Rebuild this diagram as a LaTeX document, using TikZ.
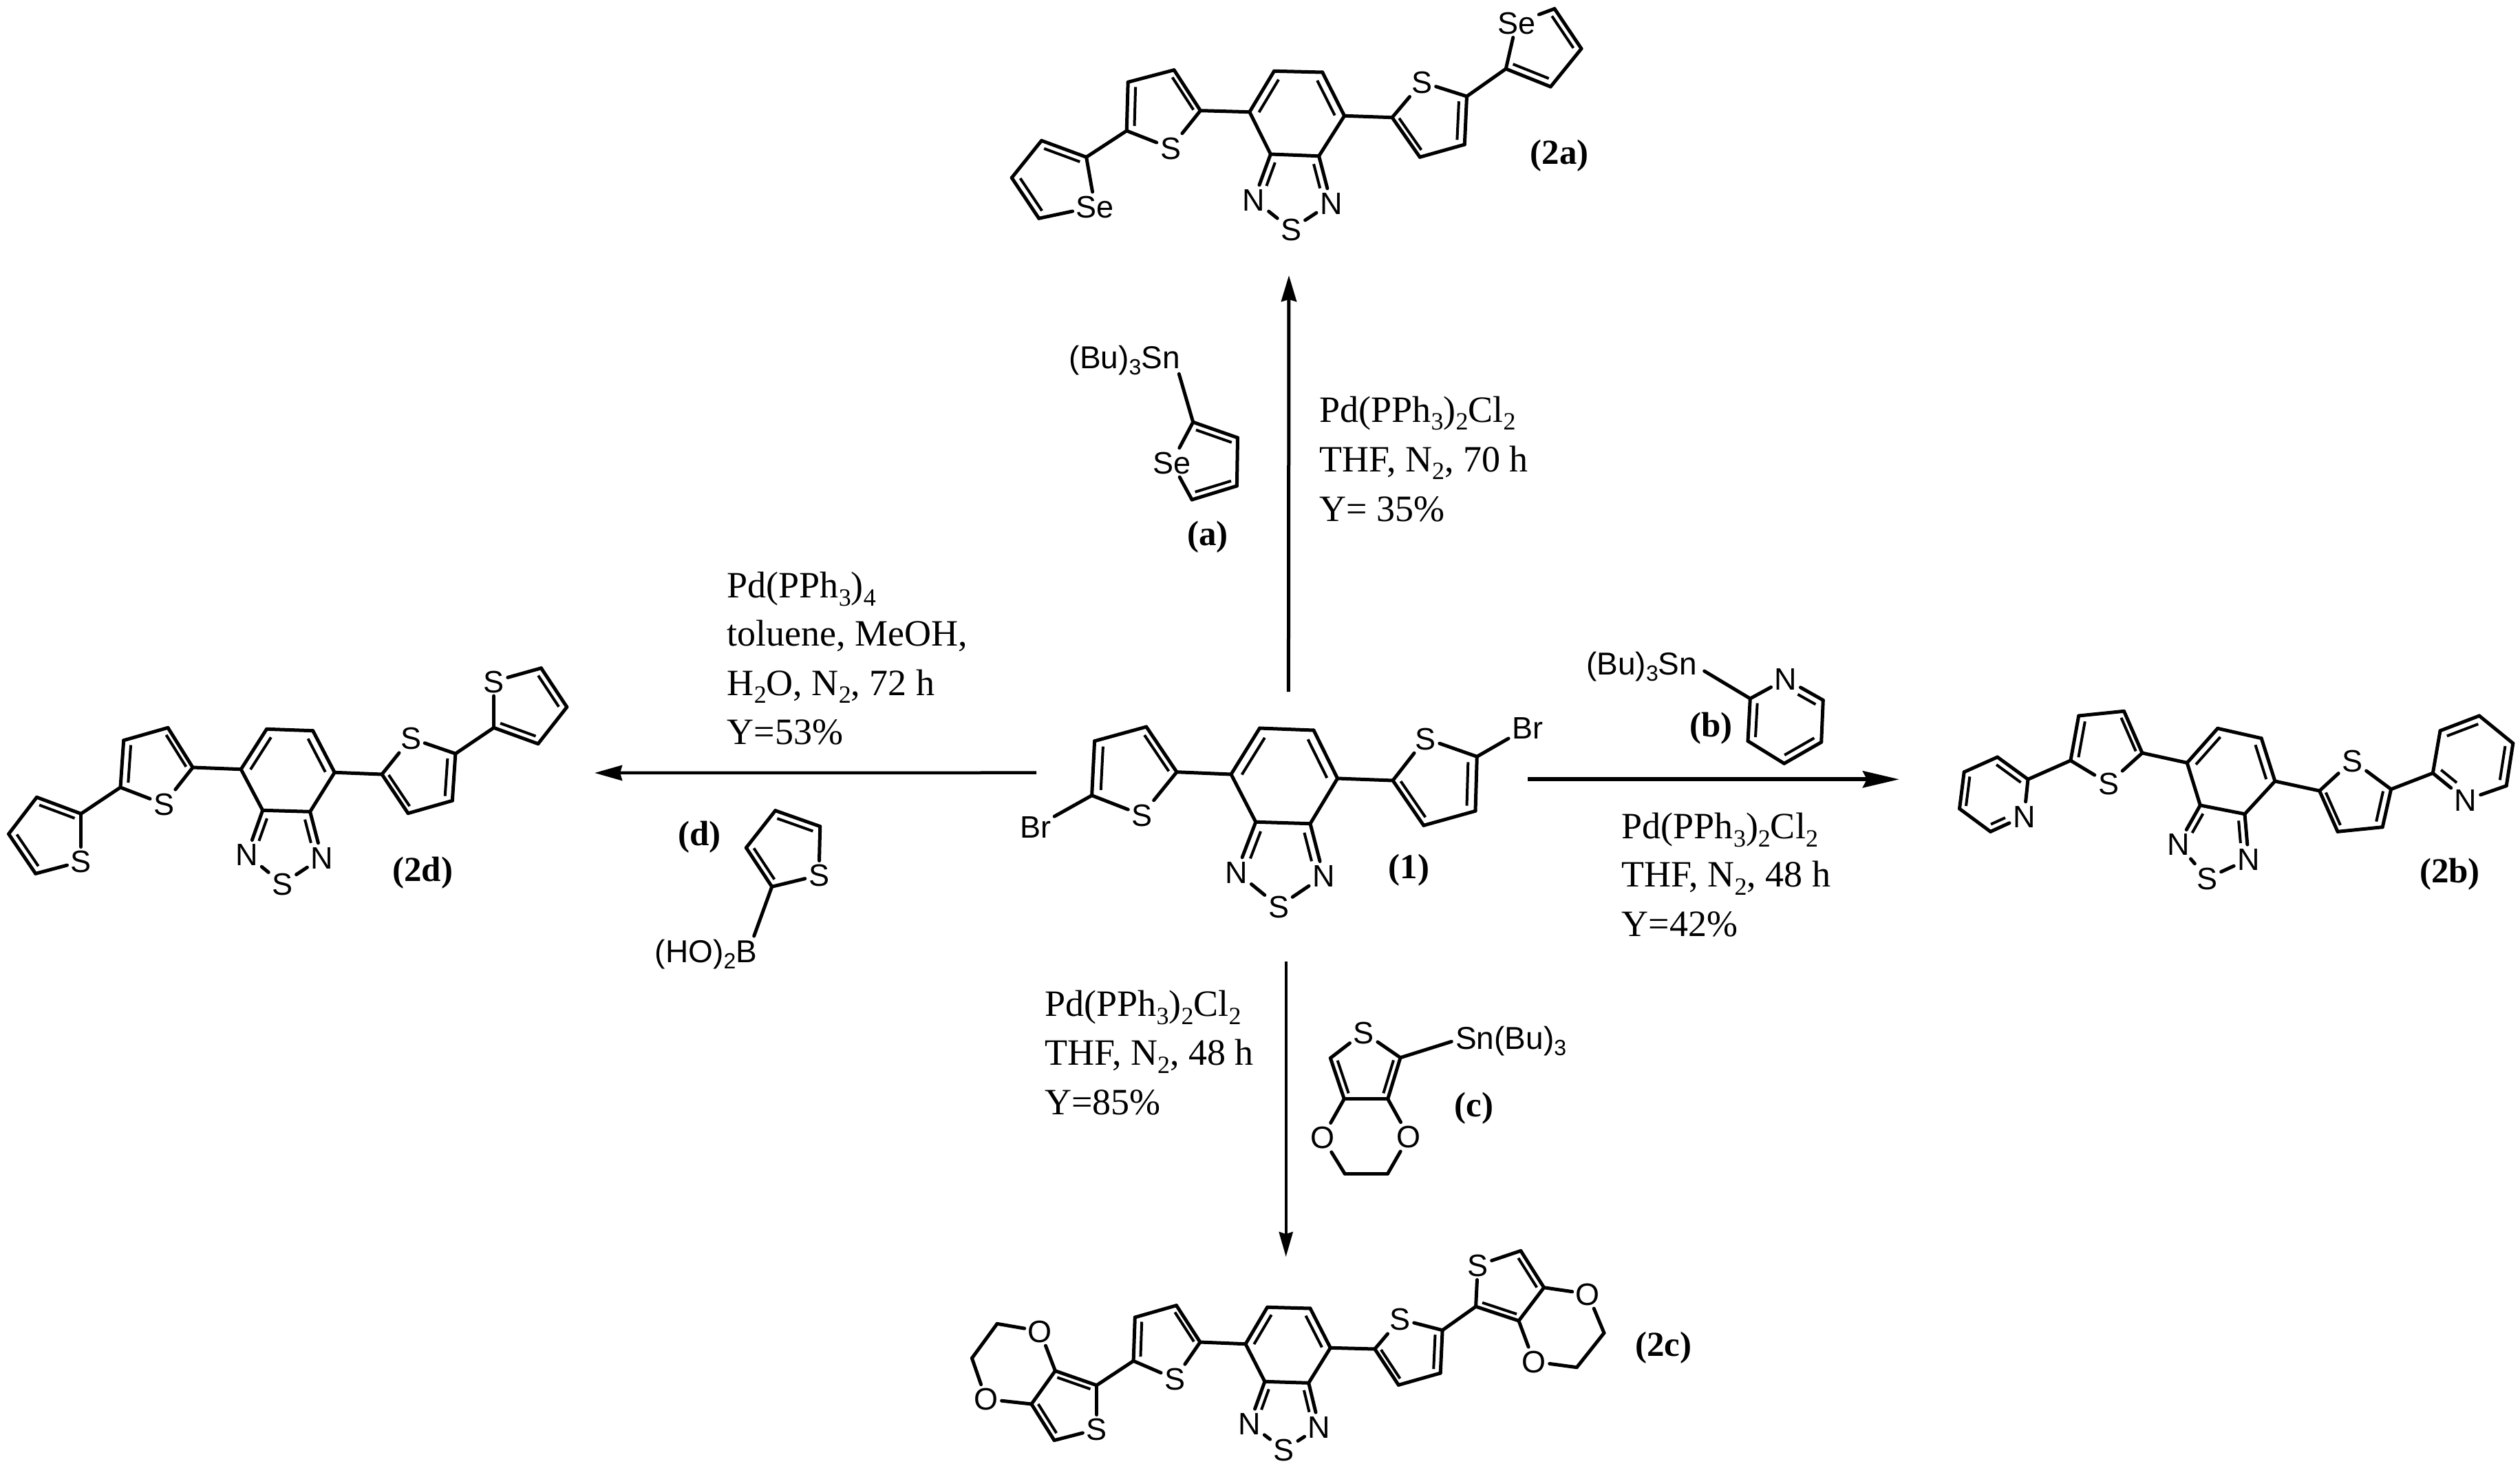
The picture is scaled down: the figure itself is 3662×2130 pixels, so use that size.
\documentclass[tikz,border=0pt]{standalone}
\usepackage{fontspec}
\setmainfont{Liberation Serif}
\setsansfont{Liberation Sans}
\usetikzlibrary{calc,arrows.meta}
\newcommand{\ssb}[1]{\raisebox{-0.22em}{\fontsize{36}{36}\selectfont #1}}
\newcommand{\asb}[1]{\raisebox{-0.2em}{\fontsize{32}{32}\selectfont #1}}
\tikzset{
  bond/.style={line width=5pt,line cap=round,line join=round,black},
  inb/.style={line width=4pt,line cap=butt,black},
  atomlab/.style={font=\sffamily\fontsize{45}{45}\selectfont,inner sep=5pt,text height=32pt,text depth=0pt},
  grp/.style={font=\sffamily\fontsize{46}{46}\selectfont,inner sep=0pt},
  cpd/.style={font=\rmfamily\bfseries\fontsize{51}{51}\selectfont,inner sep=0pt},
  cond/.style={font=\rmfamily\fontsize{54}{54}\selectfont,inner sep=0pt,anchor=base west},
}
% plain bond
\newcommand{\bnd}[2]{\draw[bond] (#1) -- (#2);}
% ring double bond: #1,#2 atoms, #3 ring centre
\newcommand{\dbl}[3]{\draw[bond] (#1) -- (#2);\draw[inb] ($(#1)!0.2!(#3)$) -- ($(#2)!0.2!(#3)$);}
% double bond whose second end is a heteroatom label
\newcommand{\dbh}[3]{\draw[bond] (#1) -- (#2);\draw[inb,shorten >=20pt] ($(#1)!0.2!(#3)$) -- ($(#2)!0.2!(#3)$);}
% shared core of all molecules, prefix #1
\newcommand{\core}[1]{%
  \coordinate (#1hc) at ($(#1a)!0.5!(#1d)$);
  \coordinate (#1tc) at ($(#1e)!0.5!(#1d)!0.55!(#1TS)$);
  \coordinate (#1lc) at ($(#1L2)!0.5!(#1L4)!0.2!(#1LS)$);
  \coordinate (#1rc) at ($(#1R2)!0.5!(#1R4)!0.2!(#1RS)$);
  \dbl{#1f}{#1a}{#1hc}\bnd{#1a}{#1b}\dbl{#1b}{#1c}{#1hc}\bnd{#1c}{#1d}\bnd{#1d}{#1e}\bnd{#1e}{#1f}
  \dbh{#1e}{#1N1}{#1tc}\dbh{#1d}{#1N2}{#1tc}\bnd{#1N1}{#1TS}\bnd{#1N2}{#1TS}
  \bnd{#1f}{#1L2}\dbl{#1L2}{#1L3}{#1lc}\bnd{#1L3}{#1L4}\dbl{#1L4}{#1L5}{#1lc}\bnd{#1L5}{#1LS}\bnd{#1LS}{#1L2}
  \bnd{#1c}{#1R2}\dbl{#1R2}{#1R3}{#1rc}\bnd{#1R3}{#1R4}\dbl{#1R4}{#1R5}{#1rc}\bnd{#1R5}{#1RS}\bnd{#1RS}{#1R2}
}
% coordinates of the core: prefix, then a b c d e f N1 N2 TS
\newcommand{\hexat}[7]{%
  \coordinate (#1a) at (#2);\coordinate (#1b) at (#3);\coordinate (#1c) at (#4);
  \coordinate (#1d) at (#5);\coordinate (#1e) at (#6);\coordinate (#1f) at (#7);}
\newcommand{\hetat}[4]{%
  \node[atomlab] (#1N1) at (#2) {N};\node[atomlab] (#1N2) at (#3) {N};\node[atomlab] (#1TS) at (#4) {S};}
\newcommand{\thL}[6]{%
  \coordinate (#1L2) at (#2);\coordinate (#1L3) at (#3);\coordinate (#1L4) at (#4);\coordinate (#1L5) at (#5);\node[atomlab] (#1LS) at (#6) {S};}
\newcommand{\thR}[6]{%
  \coordinate (#1R2) at (#2);\coordinate (#1R3) at (#3);\coordinate (#1R4) at (#4);\coordinate (#1R5) at (#5);\node[atomlab] (#1RS) at (#6) {S};}
\begin{document}
\begin{tikzpicture}[x=1pt,y=-1pt]
\useasboundingbox (0,0) rectangle (3662,2130);
% ---------- compound 1
\hexat{m}{1830.5,1058}{1909,1061}{1943.6,1131}{1904,1196.7}{1824.8,1194.3}{1789,1125}
\hetat{m}{1797,1267}{1923.5,1272.7}{1858,1317}
\thL{m}{1710,1121.7}{1665.8,1056}{1590.6,1076.7}{1586.6,1155.7}{1659.5,1184}
\thR{m}{2024,1134}{2068.8,1199.3}{2144,1178.3}{2146.3,1099.3}{2071.6,1073}
\core{m}
\node[atomlab] (mBrL) at (1504.5,1201.7) {Br};
\node[atomlab] (mBrR) at (2219.8,1057) {Br};
\bnd{mL5}{mBrL}\bnd{mR5}{mBrR}
\node[cpd] (lab1) at (2047.5,1264) {(1)};
% ---------- compound 2a
\hexat{p}{1851.5,103.3}{1921.7,105}{1953.6,168.3}{1916.6,226.7}{1846.4,224}{1815.8,162.7}
\hetat{p}{1822.2,290}{1934.4,295}{1876.4,333.3}
\thL{p}{1744.4,160.7}{1706.1,101.7}{1639.2,119.3}{1637.2,190}{1701,215}
\thR{p}{2023,170.7}{2063.3,228.3}{2128.3,210}{2131.5,140}{2066.4,119.3}
\core{p}
\coordinate (pA2) at (1578.6,228.3);\coordinate (pA3) at (1513.5,204.3);\coordinate (pA4) at (1470.2,258.3);\coordinate (pA5) at (1509.7,317.3);
\node[atomlab] (pASe) at (1591.3,300) {Se};
\coordinate (pAc) at (1532,262);
\bnd{pL5}{pA2}\dbl{pA2}{pA3}{pAc}\bnd{pA3}{pA4}\dbl{pA4}{pA5}{pAc}\bnd{pA5}{pASe}\bnd{pASe}{pA2}
\coordinate (pB2) at (2188.3,100);\coordinate (pB3) at (2253.3,126);\coordinate (pB4) at (2298,70.7);\coordinate (pB5) at (2259,12.7);
\node[atomlab] (pBSe) at (2203.6,33.3) {Se};
\coordinate (pBc) at (2240,66);
\bnd{pR5}{pB2}\dbl{pB2}{pB3}{pBc}\bnd{pB3}{pB4}\dbl{pB4}{pB5}{pBc}\bnd{pB5}{pBSe}\bnd{pBSe}{pB2}
\node[cpd] (lab2a) at (2266,226.7) {(2a)};
% ---------- compound 2b
\hexat{q}{3222.6,1058.3}{3286.2,1072.7}{3305.9,1135}{3262,1182.7}{3197.3,1170}{3178.2,1108.3}
\hetat{q}{3165.3,1226.7}{3267.6,1248.3}{3207.4,1276}
\thL{q}{3113,1094}{3086.5,1033.3}{3020.7,1040}{3008.9,1105}{3064,1138.3}
\thR{q}{3370.6,1149}{3397,1208.3}{3462.2,1201.7}{3474.6,1146.7}{3418.4,1105}
\core{q}
\coordinate (qA2) at (2947,1132.3);\node[atomlab] (qAN) at (2941.4,1186) {N};\coordinate (qA6) at (2892.5,1208.3);\coordinate (qA5) at (2847.5,1175);\coordinate (qA4) at (2854.2,1121.7);\coordinate (qA3) at (2902.6,1100);
\coordinate (qAc) at (2895,1155);
\bnd{qL5}{qA2}\bnd{qA2}{qAN}\dbl{qA2}{qA3}{qAc}\bnd{qA3}{qA4}\dbl{qA4}{qA5}{qAc}\bnd{qA5}{qA6}\dbh{qA6}{qAN}{qAc}
\coordinate (qB2) at (3535.3,1123.3);\node[atomlab] (qBN) at (3583.2,1162.3) {N};\coordinate (qB6) at (3642.2,1141.7);\coordinate (qB5) at (3651.8,1080);\coordinate (qB4) at (3602.8,1040);\coordinate (qB3) at (3546,1061.7);
\coordinate (qBc) at (3595,1100);
\bnd{qR5}{qB2}\dbh{qB2}{qBN}{qBc}\bnd{qBN}{qB6}\dbl{qB6}{qB5}{qBc}\bnd{qB5}{qB4}\dbl{qB4}{qB3}{qBc}\bnd{qB3}{qB2}
\node[cpd] (lab2b) at (3560,1270) {(2b)};
% ---------- compound 2c
\hexat{r}{1841.6,1899.3}{1904,1901}{1933.3,1958.3}{1901.7,2009.3}{1837.9,2007.3}{1810,1952.7}
\hetat{r}{1815.9,2068.3}{1917.1,2073.3}{1865.8,2106.7}
\thL{r}{1744,1950}{1709.5,1896.7}{1649.3,1914}{1647.1,1977.3}{1707.3,2003.3}
\thR{r}{1997.8,1960}{2032.3,2012.3}{2093.2,1995}{2096.1,1932.7}{2034.5,1916.7}
\core{r}
\coordinate (rA2) at (1593.6,2012.7);\coordinate (rA3) at (1533.4,1991.7);\coordinate (rA4) at (1498.9,2040);\coordinate (rA5) at (1532,2092.7);
\node[atomlab] (rAS) at (1593.6,2076.7) {S};
\node[atomlab] (rAO1) at (1511.4,1934) {O};\node[atomlab] (rAO2) at (1432.9,2032.7) {O};
\coordinate (rAC1) at (1449,1923.3);\coordinate (rAC2) at (1412.4,1973.3);
\coordinate (rAc) at (1548,2040);
\bnd{rL5}{rA2}\dbl{rA2}{rA3}{rAc}\bnd{rA3}{rA4}\dbl{rA4}{rA5}{rAc}\bnd{rA5}{rAS}\bnd{rAS}{rA2}
\bnd{rA3}{rAO1}\bnd{rAO1}{rAC1}\bnd{rAC1}{rAC2}\bnd{rAC2}{rAO2}\bnd{rAO2}{rA4}
\coordinate (rB2) at (2144.6,1898.3);\coordinate (rB3) at (2207,1919);\coordinate (rB4) at (2243.6,1870.7);\coordinate (rB5) at (2209.9,1817.3);
\node[atomlab] (rBS) at (2147.5,1838.3) {S};
\node[atomlab] (rBO1) at (2307.4,1880) {O};\node[atomlab] (rBO2) at (2229,1978.3) {O};
\coordinate (rBC1) at (2331,1936.7);\coordinate (rBC2) at (2291.3,1986.7);
\coordinate (rBc) at (2192,1870);
\bnd{rR5}{rB2}\dbl{rB2}{rB3}{rBc}\bnd{rB3}{rB4}\dbl{rB4}{rB5}{rBc}\bnd{rB5}{rBS}\bnd{rBS}{rB2}
\bnd{rB4}{rBO1}\bnd{rBO1}{rBC1}\bnd{rBC1}{rBC2}\bnd{rBC2}{rBO2}\bnd{rBO2}{rB3}
\node[cpd] (lab2c) at (2417.5,1958) {(2c)};
% ---------- compound 2d
\hexat{s}{387.5,1059.3}{454.7,1061.7}{486.2,1122.3}{450.6,1179.3}{381.7,1177.3}{350.2,1117.7}
\hetat{s}{358.8,1241.7}{467.9,1246}{410.4,1284}
\thL{s}{280.1,1115}{244,1057.3}{179.7,1075.7}{175,1144}{238.2,1168.3}
\thR{s}{555,1125}{593,1181.7}{657.3,1163.3}{661.9,1095}{597,1072.7}
\core{s}
\coordinate (sA2) at (117.7,1182.3);\coordinate (sA3) at (53.4,1158.3);\coordinate (sA4) at (12.6,1211.7);\coordinate (sA5) at (51.7,1269.3);
\node[atomlab] (sAS) at (117.7,1251.7) {S};
\coordinate (sAc) at (72,1215);
\bnd{sL5}{sA2}\dbl{sA2}{sA3}{sAc}\bnd{sA3}{sA4}\dbl{sA4}{sA5}{sAc}\bnd{sA5}{sAS}\bnd{sAS}{sA2}
\coordinate (sB2) at (717.6,1057.3);\coordinate (sB3) at (781.9,1080.7);\coordinate (sB4) at (823.8,1027.3);\coordinate (sB5) at (786.4,970.7);
\node[atomlab] (sBS) at (717.6,990) {S};
\coordinate (sBc) at (765,1025);
\bnd{sR5}{sB2}\dbl{sB2}{sB3}{sBc}\bnd{sB3}{sB4}\dbl{sB4}{sB5}{sBc}\bnd{sB5}{sBS}\bnd{sBS}{sB2}
\node[cpd] (lab2d) at (614.2,1268) {(2d)};
% ---------- reagent a
\node[grp,anchor=base west] (aSn) at (1553.6,535) {(Bu)\asb{3}Sn};
\coordinate (aC2) at (1733.7,613.3);\coordinate (aC3) at (1798.5,636);\coordinate (aC4) at (1797.4,706);\coordinate (aC5) at (1732.1,726);
\node[atomlab] (aSe) at (1702.6,672) {Se};
\coordinate (aSnB) at (1713.3,543.3);\coordinate (ac) at (1755,670);
\bnd{aSnB}{aC2}\dbl{aC2}{aC3}{ac}\bnd{aC3}{aC4}\dbl{aC4}{aC5}{ac}\bnd{aC5}{aSe}\bnd{aSe}{aC2}
\node[cpd] (laba) at (1755,780) {(a)};
% ---------- reagent b
\node[grp,anchor=base west] (bSn) at (2305,980) {(Bu)\asb{3}Sn};
\coordinate (bC2) at (2543.3,1015);\node[atomlab] (bN) at (2595,986.7) {N};\coordinate (bC6) at (2649.3,1017.3);\coordinate (bC5) at (2646.7,1078.3);\coordinate (bC4) at (2592.7,1109.3);\coordinate (bC3) at (2540,1076.7);
\coordinate (bSnB) at (2476.7,975);\coordinate (bc) at (2595,1048);
\bnd{bSnB}{bC2}\bnd{bC2}{bN}\draw[bond] (bN) -- (bC6);\draw[inb,shorten <=20pt] ($(bN)!0.2!(bc)$) -- ($(bC6)!0.2!(bc)$);
\bnd{bC6}{bC5}\dbl{bC5}{bC4}{bc}\bnd{bC4}{bC3}\dbl{bC3}{bC2}{bc}
\node[cpd] (labb) at (2486.7,1058) {(b)};
% ---------- reagent c
\node[atomlab] (cS) at (1981.7,1500) {S};
\coordinate (cC2) at (2035,1536.7);\coordinate (cC3) at (2016.7,1596.7);\coordinate (cC4) at (1953.3,1596.7);\coordinate (cC5) at (1933.3,1537.3);
\node[atomlab] (cOr) at (2047.3,1651.7) {O};\node[atomlab] (cOl) at (1921.7,1652.7) {O};
\coordinate (cCr) at (2016.7,1705);\coordinate (cCl) at (1954,1705);
\node[grp,anchor=base west] (cSn) at (2115,1524) {Sn(Bu)\asb{3}};
\coordinate (cSnB) at (2109.3,1513.3);\coordinate (cc) at (1985,1555);
\bnd{cS}{cC2}\dbl{cC2}{cC3}{cc}\bnd{cC3}{cC4}\dbl{cC4}{cC5}{cc}\bnd{cC5}{cS}
\bnd{cC3}{cOr}\bnd{cOr}{cCr}\bnd{cCr}{cCl}\bnd{cCl}{cOl}\bnd{cOl}{cC4}\bnd{cC2}{cSnB}
\node[cpd] (labc) at (2141.7,1610) {(c)};
% ---------- reagent d
\node[atomlab] (dS) at (1190,1271.7) {S};
\coordinate (dC5) at (1191.7,1200.7);\coordinate (dC4) at (1126.7,1177.7);\coordinate (dC3) at (1084.3,1231.7);\coordinate (dC2) at (1121.7,1288.3);
\node[grp,anchor=base west] (dB) at (951.7,1398) {(HO)\asb{2}B};
\coordinate (dBB) at (1095.7,1360);\coordinate (dc) at (1140,1235);
\bnd{dS}{dC5}\dbl{dC5}{dC4}{dc}\bnd{dC4}{dC3}\dbl{dC3}{dC2}{dc}\bnd{dC2}{dS}\bnd{dC2}{dBB}
\node[cpd] (labd) at (1016.7,1216.7) {(d)};
% ---------- conditions
\node[cond] (ua) at (1917.3,613) {Pd(PPh\ssb{3})\ssb{2}Cl\ssb{2}};
\node[cond] (ub) at (1917.3,685) {THF, N\ssb{2}, 70 h};
\node[cond] (uc) at (1917.3,757) {Y= 35\%};
\node[cond] (la) at (1056.7,868.3) {Pd(PPh\ssb{3})\ssb{4}};
\node[cond] (lb) at (1056.7,938.3) {toluene, MeOH,};
\node[cond] (lc) at (1056.7,1010) {H\ssb{2}O, N\ssb{2}, 72 h};
\node[cond] (ld) at (1056.7,1081.7) {Y=53\%};
\node[cond] (ra) at (2356.7,1218.3) {Pd(PPh\ssb{3})\ssb{2}Cl\ssb{2}};
\node[cond] (rb) at (2356.7,1288.3) {THF, N\ssb{2}, 48 h};
\node[cond] (rc) at (2356.7,1360) {Y=42\%};
\node[cond] (da) at (1518.3,1476.7) {Pd(PPh\ssb{3})\ssb{2}Cl\ssb{2}};
\node[cond] (db) at (1518.3,1547.3) {THF, N\ssb{2}, 48 h};
\node[cond] (dc) at (1518.3,1619) {Y=85\%};
% ---------- arrows
\coordinate (upS) at (1872.4,1005);\coordinate (upE) at (1873,400);
\coordinate (dnS) at (1868.7,1397);\coordinate (dnE) at (1868.7,1826);
\coordinate (ltS) at (1506,1122.7);\coordinate (ltE) at (864,1123);
\coordinate (rtS) at (2219.8,1132.3);\coordinate (rtE) at (2760,1132.3);
\draw[line width=5pt,-{Stealth[length=38pt,width=22pt,inset=3pt]}] (upS) -- (upE);
\draw[line width=4pt,-{Stealth[length=36pt,width=20pt,inset=3pt]}] (dnS) -- (dnE);
\draw[line width=4.5pt,-{Stealth[length=40pt,width=22pt,inset=3pt]}] (ltS) -- (ltE);
\draw[line width=6pt,-{Stealth[length=53pt,width=24pt,inset=6pt]}] (rtS) -- (rtE);
\end{tikzpicture}
\end{document}
